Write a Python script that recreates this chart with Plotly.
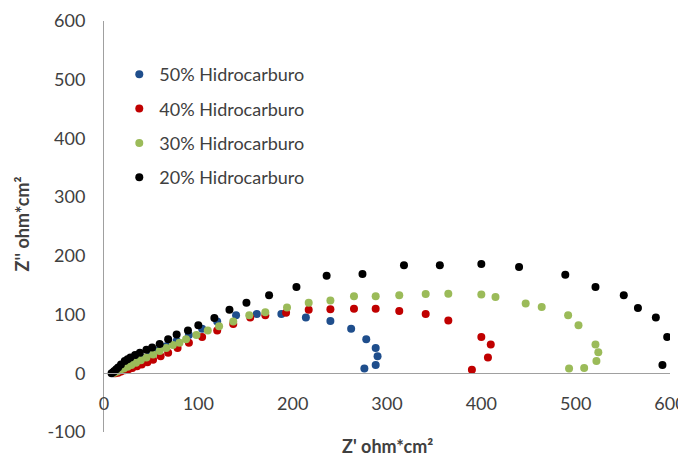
import plotly.graph_objects as go

series_names = ["50% Hidrocarburo", "40% Hidrocarburo", "30% Hidrocarburo", "20% Hidrocarburo"]
series_colors = ["#1F4E8C", "#C00000", "#9BBB59", "#000000"]

x50 = [10, 12, 15, 18, 22, 26, 31, 36, 42, 49, 57, 66, 77, 90, 104, 120, 140, 162, 188, 214, 240, 262, 278, 288, 290, 288, 276]
y50 = [0, 2, 4, 7, 10, 13, 17, 21, 26, 32, 39, 46, 55, 65, 76, 88, 99, 101, 101, 95, 89, 76, 58, 43, 29, 14, 8]

x40 = [12, 15, 18, 22, 26, 30, 35, 40, 46, 52, 60, 68, 78, 90, 104, 120, 137, 155, 171, 193, 217, 240, 265, 288, 313, 341, 365, 400, 410, 407, 390]
y40 = [0, 1, 3, 5, 7, 9, 12, 15, 19, 23, 29, 35, 43, 52, 62, 73, 84, 95, 99, 103, 108, 109, 110, 110, 106, 101, 90, 62, 49, 27, 6]

x30 = [11, 14, 17, 21, 25, 29, 34, 39, 45, 52, 59, 66, 73, 80, 87, 98, 110, 122, 137, 154, 171, 194, 217, 240, 265, 288, 313, 341, 365, 400, 415, 447, 464, 492, 503, 521, 524, 522, 509, 493]
y30 = [1, 3, 5, 8, 11, 14, 18, 22, 27, 32, 38, 43, 48, 52, 58, 65, 73, 80, 88, 99, 104, 112, 120, 124, 131, 131, 133, 135, 135.5, 134, 130, 119, 113, 99, 82, 49, 36, 21, 9, 8]

x20 = [8, 10, 11, 13, 15, 18, 22, 25, 28, 33, 38, 45, 51, 59, 68, 77, 89, 100, 117, 133, 151, 175, 204, 236, 274, 318, 356, 400, 440, 489, 521, 551, 566, 585, 597, 592]
y20 = [0, 2, 4, 7, 10, 15, 21, 24, 27, 31, 35, 40, 44, 50, 58, 66, 73, 82, 94, 108, 120, 133, 147, 166, 169, 184, 184, 186, 181, 168, 147, 133, 111, 95, 62, 14]

x_ticks = [0, 100, 200, 300, 400, 500, 600]
x_tick_labels = ["0", "100", "200", "300", "400", "500", "600"]
y_ticks = [-100, 0, 100, 200, 300, 400, 500, 600]
y_tick_labels = ["-100", "0", "100", "200", "300", "400", "500", "600"]

x_title = "Z' ohm*cm²"
y_title = "Z'' ohm*cm²"

xs = [x50, x40, x30, x20]
ys = [y50, y40, y30, y20]

FONT = "Lato"
TXT = "#404040"
FS = 18

fig = go.Figure()
for i, (name, col, xv, yv) in enumerate(zip(series_names, series_colors, xs, ys)):
    fig.add_trace(go.Scatter(
        x=xv, y=yv, mode="markers", name=name, legendgroup=f"g{i}",
        marker=dict(color=col, size=8, line=dict(width=0)),
    ))

# page body has an 8px default margin, so the figure is offset by 8px
fig.update_layout(
    width=678, height=450,
    margin=dict(l=96, r=16, t=13, b=26, autoexpand=False),
    paper_bgcolor="white", plot_bgcolor="white",
    font=dict(family=FONT, size=FS, color=TXT),
    showlegend=True,
    legend=dict(x=0.027, y=0.915, xanchor="left", yanchor="top",
                bgcolor="rgba(0,0,0,0)", tracegroupgap=8,
                font=dict(family=FONT, size=FS, color=TXT)),
    xaxis=dict(range=[0, 600], tickvals=x_ticks, ticktext=x_tick_labels,
               showgrid=False, zeroline=False, automargin=False,
               showline=True, linecolor="#A0A0A0", linewidth=1,
               anchor="free", position=1/7, ticks="",
               ticklabelstandoff=14,
               tickfont=dict(family=FONT, size=FS, color=TXT)),
    yaxis=dict(range=[-100, 600], tickvals=y_ticks, ticktext=y_tick_labels,
               showgrid=False, zeroline=False, automargin=False,
               showline=True, linecolor="#A0A0A0", linewidth=1, ticks="",
               ticklabelstandoff=14,
               tickfont=dict(family=FONT, size=FS, color=TXT)),
    annotations=[
        dict(text=f"<b>{x_title}</b>", xref="paper", yref="paper",
             x=(387 - 104) / 566, y=-14 / 411, xanchor="center", yanchor="middle",
             showarrow=False, font=dict(family=FONT, size=FS, color=TXT)),
        dict(text=f"<b>{y_title}</b>", xref="paper", yref="paper",
             x=(22 - 104) / 566, y=0.505, xanchor="center", yanchor="middle",
             textangle=-90, showarrow=False, font=dict(family=FONT, size=FS, color=TXT)),
    ],
)

fig.write_html("out.html")
